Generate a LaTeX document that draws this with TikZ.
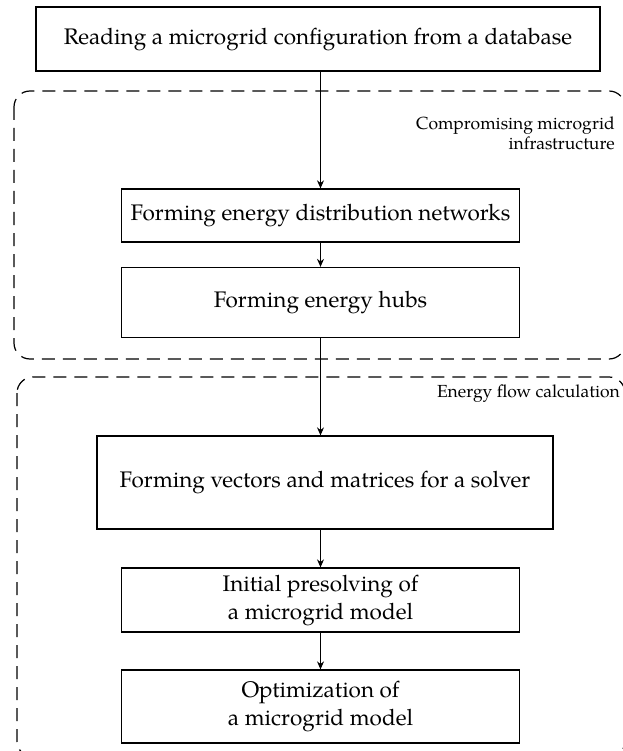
\documentclass[tikz,border=0pt]{standalone}
\usepackage{fontspec}
\setmainfont{TeX Gyre Pagella}
\usetikzlibrary{arrows.meta}
\begin{document}
\begin{tikzpicture}[x=1pt,y=-1pt,
  box/.style={draw, line width=1.3pt, align=center, inner sep=0pt,
    font=\fontsize{22.5}{28}\selectfont},
  region/.style={draw, line width=1.2pt, dash pattern=on 13pt off 8pt,
    rounded corners=16pt},
  grouplabel/.style={align=right, anchor=north east, inner sep=0pt,
    font=\fontsize{17.5}{19.5}\selectfont},
  flow/.style={draw, line width=1.1pt, -{Stealth[length=8pt,width=7pt]}}]
\useasboundingbox (0,0) rectangle (622,751);

% grouping frames
\draw[region] (14,91) rectangle (625,359);
\draw[region] (17,377) rectangle (625,757);
\node[grouplabel] (lab1) at (615,117) {Compromising microgrid\\infrastructure};
\node[grouplabel] (lab2) at (620,385) {Energy flow calculation};

% process steps
\node[box, minimum width=564pt, minimum height=64pt] (read) at (318,39) {Reading a microgrid configuration from a database};
\node[box, minimum width=398pt, minimum height=53pt] (nets) at (320.5,215.5) {Forming energy distribution networks};
\node[box, minimum width=398pt, minimum height=70pt] (hubs) at (320.5,302.5) {Forming energy hubs};
\node[box, minimum width=456pt, minimum height=93pt] (vec) at (325,482.5) {Forming vectors and matrices for a solver};
\node[box, minimum width=398pt, minimum height=64pt] (pre) at (320.5,600) {Initial presolving of\\a microgrid model};
\node[box, minimum width=398pt, minimum height=73pt] (opt) at (320.5,706.5) {Optimization of\\a microgrid model};

% connectors
\draw[flow] (read.south -| nets.north) -- (nets.north);
\draw[flow] (nets) -- (hubs);
\draw[flow] (hubs.south) -- (hubs.south |- vec.north);
\draw[flow] (vec.south -| pre.north) -- (pre.north);
\draw[flow] (pre) -- (opt);
\end{tikzpicture}
\end{document}
